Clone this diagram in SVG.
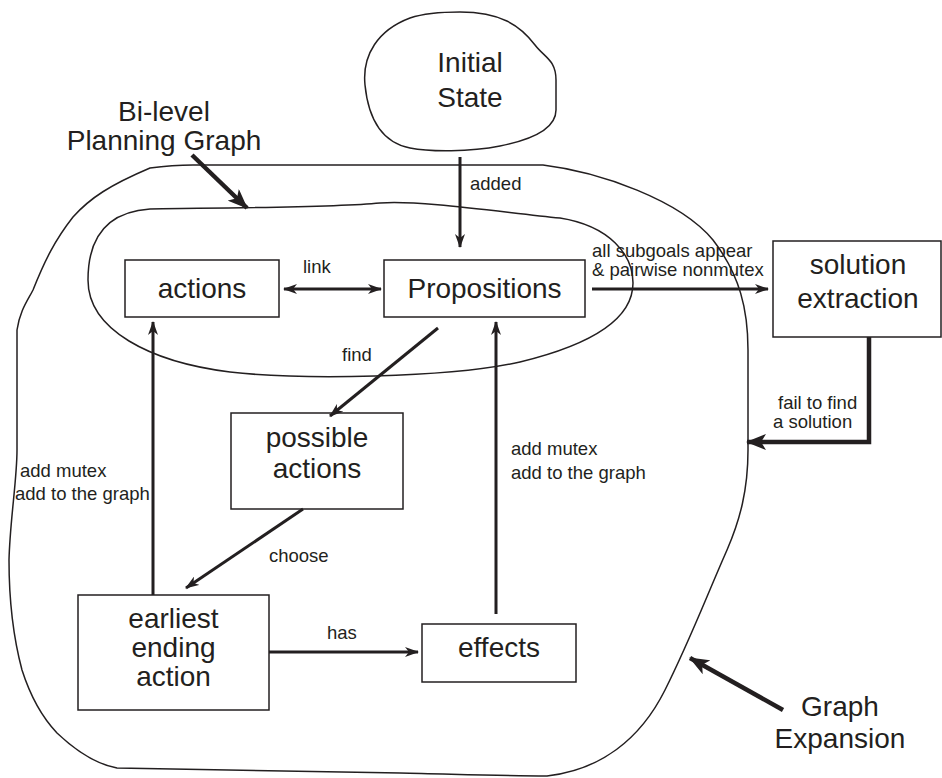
<svg xmlns="http://www.w3.org/2000/svg" width="942" height="778" viewBox="0 0 942 778">
<style>
text{font-family:"Liberation Sans",Arial,sans-serif;fill:#231f20}
.big{font-size:28px;text-anchor:middle}
.sm{font-size:18.5px}
.box{fill:#fff;stroke:#231f20;stroke-width:1.5}
.blob{fill:none;stroke:#231f20;stroke-width:1.5}
.c{fill:none;stroke:#231f20;stroke-width:3}
.ct{fill:none;stroke:#231f20;stroke-width:4.5}
</style>
<defs>
<marker id="ah" viewBox="0 0 14 10" refX="13" refY="5" markerWidth="14" markerHeight="10" markerUnits="userSpaceOnUse" orient="auto-start-reverse">
<path d="M0,0 L14,5 L0,10 L4,5 Z" fill="#231f20"/>
</marker>
<marker id="ahb" viewBox="0 0 20 16" refX="19" refY="8" markerWidth="20" markerHeight="16" markerUnits="userSpaceOnUse" orient="auto-start-reverse">
<path d="M0,0 L20,8 L0,16 L5,8 Z" fill="#231f20"/>
</marker>
</defs>
<rect width="942" height="778" fill="#fff"/>

<g id="graph-expansion-region">
<path class="blob" d="M193 165 L543 165 C600 172 680 200 713 240 C740 275 748 310 748 350 L748 450 C748 490 740 520 727 550 C705 600 690 640 665 690 C640 740 600 770 547 776 C500 776 450 774 400 773 L117 768 C95 764 75 750 57 733 C40 715 30 695 22 670 C14 640 9 600 9 560 C10 520 17 480 17 450 L17 330 C20 310 28 300 33 290 C45 260 55 240 73 217 C90 198 110 185 150 168 C165 166 180 165 193 165 Z"/>
</g>
<g id="bilevel-region">
<path class="blob" d="M150 209 C200 208 330 208 380 203 C420 200 500 212 560 218 C610 226 633 255 633 283 C633 320 590 345 520 362 C450 378 300 380 230 372 C150 362 88 330 88 280 C88 240 105 212 150 209 Z"/>
</g>

<g id="initial-state">
<path class="blob" d="M460 12 C500 12 520 25 535 45 C545 58 556 60 556 80 L556 110 C556 130 530 140 500 146 C470 152 430 152 410 148 C380 142 368 115 365 85 C362 55 378 30 410 18 C425 13 445 12 460 12 Z"/>
<text class="big" x="470" y="72">Initial</text>
<text class="big" x="470" y="107">State</text>
</g>

<g id="label-bilevel">
<text class="big" x="164" y="121">Bi-level</text>
<text class="big" x="164" y="150">Planning Graph</text>
</g>
<g id="label-expansion">
<text class="big" x="840" y="716">Graph</text>
<text class="big" x="840" y="748">Expansion</text>
</g>

<g id="actions">
<rect class="box" x="125" y="260" width="154" height="57"/>
<text class="big" x="202" y="298">actions</text>
</g>
<g id="propositions">
<rect class="box" x="384" y="260" width="201" height="57"/>
<text class="big" x="484.5" y="298">Propositions</text>
</g>
<g id="solution-extraction">
<rect class="box" x="773" y="241" width="168" height="96"/>
<text class="big" x="858" y="274">solution</text>
<text class="big" x="858" y="308">extraction</text>
</g>
<g id="possible-actions">
<rect class="box" x="231" y="413" width="172" height="96"/>
<text class="big" x="317" y="447">possible</text>
<text class="big" x="317" y="478">actions</text>
</g>
<g id="earliest-ending-action">
<rect class="box" x="78" y="595" width="191" height="115"/>
<text class="big" x="173.5" y="628">earliest</text>
<text class="big" x="173.5" y="657">ending</text>
<text class="big" x="173.5" y="686">action</text>
</g>
<g id="effects">
<rect class="box" x="422" y="624" width="154" height="58"/>
<text class="big" x="499" y="657">effects</text>
</g>

<g id="connectors">
<path class="c" d="M460 157 L460 247" marker-end="url(#ah)"/>
<path class="c" d="M284 289 L381 289" marker-start="url(#ah)" marker-end="url(#ah)"/>
<path class="c" d="M592 289 L768 289" marker-end="url(#ah)"/>
<path class="c" d="M438 328 L330 416" marker-end="url(#ah)"/>
<path class="c" d="M303 509 L186 588" marker-end="url(#ah)"/>
<path class="c" d="M269 652 L418 652" marker-end="url(#ah)"/>
<path class="c" d="M153 595 L153 322" marker-end="url(#ah)"/>
<path class="c" d="M496 614 L496 322" marker-end="url(#ah)"/>
<path class="ct" d="M869 337 L869 442 L747 442" marker-end="url(#ahb)"/>
<path class="ct" d="M192 155 L247 208" marker-end="url(#ahb)"/>
<path class="ct" d="M783 710 L690 658" marker-end="url(#ahb)"/>
</g>

<g id="connector-labels">
<text class="sm" x="470" y="190">added</text>
<text class="sm" x="303" y="273">link</text>
<text class="sm" x="592" y="257">all subgoals appear</text>
<text class="sm" x="592" y="276">&amp; pairwise nonmutex</text>
<text class="sm" x="342" y="361">find</text>
<text class="sm" x="269" y="562">choose</text>
<text class="sm" x="327" y="639">has</text>
<text class="sm" x="20" y="477">add mutex</text>
<text class="sm" x="15" y="500">add to the graph</text>
<text class="sm" x="511" y="455">add mutex</text>
<text class="sm" x="511" y="479">add to the graph</text>
<text class="sm" x="778" y="409">fail to find</text>
<text class="sm" x="773" y="428">a solution</text>
</g>
</svg>
